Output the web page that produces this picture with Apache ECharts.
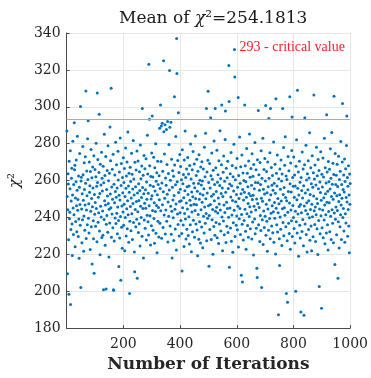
<!DOCTYPE html>
<html>
<head>
<meta charset="utf-8">
<script src="https://cdn.jsdelivr.net/npm/echarts@6/dist/echarts.min.js"></script>
<style>
  html, body { margin: 0; padding: 0; background: #ffffff; }
  #chart { width: 371px; height: 378px; }
</style>
</head>
<body>
<div id="chart"></div>
<script>
// Chi-square statistic recorded at each Monte Carlo iteration (1..1000)
const chiSquare = [
  286.8, 251.4, 209.5, 244.2, 263.7, 258.1, 227.9, 198.3, 270.5, 239.3, 242.8, 255.6, 276.1, 192.8, 233.4, 248.9, 261.2, 266.7, 236.5, 219.4, 252.2, 281.3, 245.1, 230.7, 257.8,
  241.5, 291.3, 265.9, 268.3, 224.1, 250.6, 237.8, 259.4, 271.2, 246.3, 232.2, 254.8, 284.0, 243.9, 249.7, 229.6, 262.5, 239.1, 217.9, 256.3, 274.6, 247.0, 235.7, 300.2, 202.0,
  259.7, 261.8, 244.6, 226.3, 252.9, 238.7, 278.4, 263.1, 249.3, 221.7, 240.8, 269.6, 255.1, 233.0, 246.7, 272.9, 258.5, 308.5, 228.6, 244.0, 265.2, 251.8, 236.1, 282.7, 260.6,
  292.4, 239.6, 247.4, 231.5, 270.1, 253.7, 257.2, 222.6, 264.9, 243.3, 276.8, 234.9, 250.2, 261.5, 214.8, 245.8, 267.4, 255.9, 238.2, 228.4, 273.5, 209.7, 252.5, 241.7, 266.0,
  248.1, 235.2, 262.0, 280.2, 244.9, 256.9, 226.8, 307.5, 259.0, 271.4, 237.4, 250.9, 242.5, 264.4, 296.0, 232.6, 253.0, 219.8, 268.9, 246.0, 257.6, 240.2, 275.3, 229.1, 261.3,
  254.3, 243.5, 230.4, 267.8, 200.8, 258.8, 238.9, 285.1, 249.0, 262.7, 224.9, 246.8, 273.0, 201.2, 236.3, 255.2, 241.0, 265.5, 251.6, 232.0, 278.9, 247.5, 259.9, 218.6, 244.4,
  263.9, 237.0, 289.0, 252.7, 270.7, 245.3, 310.0, 229.3, 256.5, 241.9, 266.1, 249.8, 234.4, 274.2, 200.8, 200.5, 258.0, 227.2, 247.9, 263.0, 239.7, 254.0, 280.8, 236.7, 251.0,
  268.6, 242.3, 256.0, 231.2, 245.6, 275.9, 260.3, 238.4, 213.4, 252.0, 264.6, 228.9, 249.5, 283.1, 240.5, 206.0, 257.3, 269.3, 234.7, 246.2, 223.3, 261.6, 253.4, 243.0, 272.3,
  235.8, 258.9, 247.2, 266.5, 221.9, 251.3, 239.9, 277.6, 255.8, 230.0, 262.4, 244.7, 270.0, 233.9, 249.1, 286.3, 241.4, 257.0, 226.5, 264.0, 253.6, 198.7, 238.0, 267.2, 245.9,
  259.5, 232.8, 250.5, 274.8, 242.0, 263.4, 228.0, 255.4, 247.6, 281.7, 237.2, 260.9, 252.1, 221.2, 210.6, 269.9, 244.3, 256.6, 235.0, 265.7, 248.6, 239.0, 276.0, 207.0, 253.3,
  243.1, 270.6, 231.9, 258.3, 249.2, 236.6, 264.8, 254.6, 224.5, 279.3, 246.1, 261.0, 240.0, 250.8, 267.9, 229.8, 299.0, 256.2, 244.8, 262.9, 218.0, 252.8, 273.6, 238.6, 247.7,
  266.4, 234.1, 255.0, 245.0, 271.8, 227.7, 259.2, 249.9, 241.2, 284.5, 263.5, 237.7, 253.1, 230.5, 323.0, 246.4, 293.2, 268.0, 240.9, 257.4, 225.0, 262.2, 250.0, 235.5, 275.0,
  251.7, 295.0, 243.8, 261.9, 233.1, 256.8, 272.6, 239.4, 248.0, 226.0, 266.9, 254.4, 243.2, 280.0, 231.4, 259.6, 246.5, 264.2, 220.8, 252.3, 270.4, 237.9, 257.9, 245.4, 229.4,
  262.6, 249.6, 288.3, 236.9, 255.7, 301.0, 243.6, 270.3, 289.6, 228.7, 258.7, 291.1, 246.9, 265.0, 234.6, 253.9, 325.0, 286.4, 241.3, 274.4, 250.4, 290.2, 231.0, 261.4, 244.1,
  257.5, 287.7, 238.0, 268.7, 252.6, 292.0, 226.7, 248.4, 263.8, 240.6, 279.5, 254.9, 319.7, 288.9, 235.4, 260.1, 246.0, 291.6, 230.9, 271.6, 243.4, 218.0, 256.4, 265.3, 249.4,
  239.8, 262.3, 227.5, 251.9, 305.5, 268.4, 244.5, 233.7, 257.7, 283.9, 247.3, 222.3, 337.0, 318.0, 259.3, 241.8, 270.9, 236.2, 296.7, 253.5, 264.3, 229.9, 248.7, 274.1, 242.6,
  255.3, 267.6, 238.3, 249.1, 260.5, 231.3, 211.0, 276.7, 245.2, 258.2, 235.9, 263.3, 250.7, 224.2, 271.1, 242.2, 254.5, 286.8, 239.2, 261.7, 228.3, 247.8, 266.2, 233.6, 256.7,
  244.6, 272.5, 252.4, 230.2, 263.6, 240.4, 257.1, 225.6, 268.1, 249.3, 236.0, 279.8, 246.6, 260.8, 221.4, 253.8, 242.9, 265.8, 232.3, 251.2, 275.7, 238.5, 258.6, 247.1, 269.0,
  229.2, 256.1, 243.7, 284.2, 250.3, 236.4, 262.8, 246.9, 271.5, 233.2, 254.2, 219.2, 265.1, 241.6, 258.4, 228.2, 274.0, 249.8, 237.6, 260.2, 252.9, 226.1, 267.3, 244.2, 257.6,
  234.8, 270.2, 248.3, 259.8, 223.6, 252.2, 266.3, 240.7, 255.5, 231.6, 278.1, 245.7, 262.1, 236.8, 285.7, 250.1, 242.1, 299.0, 227.3, 264.7, 253.2, 239.5, 271.0, 308.4, 246.4,
  258.9, 213.6, 241.0, 269.2, 233.5, 255.9, 247.0, 294.0, 262.6, 228.1, 251.5, 274.9, 238.8, 260.7, 244.3, 220.0, 265.6, 252.6, 235.1, 281.4, 249.0, 257.8, 230.4, 299.0, 243.4,
  267.0, 237.3, 254.1, 245.5, 276.4, 229.0, 259.1, 242.4, 263.2, 250.6, 225.9, 270.8, 247.3, 236.5, 257.3, 287.0, 244.0, 261.1, 232.7, 253.0, 268.5, 301.0, 240.3, 256.0, 222.0,
  251.4, 264.5, 238.1, 273.3, 246.7, 230.6, 259.6, 242.7, 282.3, 297.7, 253.7, 226.4, 266.7, 248.2, 235.2, 261.5, 244.8, 270.5, 231.8, 255.7, 240.1, 322.4, 302.8, 213.0, 258.1,
  245.1, 263.7, 234.3, 251.1, 275.2, 227.1, 257.2, 241.3, 268.2, 249.2, 221.1, 262.0, 237.1, 254.3, 279.7, 243.9, 331.0, 316.2, 229.6, 260.4, 248.5, 266.8, 235.7, 252.5, 240.8,
  271.9, 233.3, 256.3, 246.0, 305.0, 224.0, 262.7, 250.2, 239.3, 283.6, 244.9, 258.5, 230.8, 267.5, 252.8, 208.6, 241.6, 273.8, 236.3, 205.0, 255.1, 264.1, 227.8, 249.4, 260.0,
  238.4, 253.6, 301.0, 244.5, 268.0, 232.5, 259.3, 222.8, 250.9, 277.4, 242.0, 263.9, 235.6, 256.6, 247.5, 229.3, 270.6, 253.0, 240.5, 285.3, 245.8, 261.8, 233.8, 251.8, 266.6,
  243.0, 257.4, 228.3, 274.5, 249.7, 237.5, 262.3, 252.0, 219.6, 268.7, 246.1, 255.6, 239.1, 280.6, 231.1, 259.0, 244.0, 265.9, 234.2, 250.0, 212.4, 207.4, 271.3, 247.6, 258.8,
  298.0, 236.0, 263.1, 245.4, 254.7, 227.0, 269.8, 241.1, 257.9, 232.9, 276.2, 250.4, 202.0, 261.3, 238.7, 248.8, 283.0, 225.3, 255.3, 243.5, 266.0, 234.5, 252.7, 272.0, 240.6,
  259.8, 300.7, 230.3, 247.2, 264.9, 237.9, 253.4, 221.6, 270.0, 244.6, 256.7, 233.0, 293.6, 261.2, 249.5, 239.4, 275.1, 228.5, 299.0, 252.3, 242.3, 267.1, 235.3, 257.5, 246.3,
  262.8, 231.7, 254.8, 243.1, 280.9, 226.6, 258.6, 248.1, 239.6, 268.9, 253.1, 220.2, 304.3, 245.0, 264.0, 236.1, 257.1, 273.9, 232.1, 250.3, 242.6, 187.3, 261.0, 247.4, 228.4,
  214.0, 266.3, 240.2, 255.3, 233.6, 271.2, 248.9, 259.7, 224.8, 263.5, 244.7, 299.0, 237.2, 252.5, 277.9, 230.1, 256.2, 245.3, 268.3, 241.2, 283.8, 250.8, 235.0, 262.5, 198.7,
  249.1, 260.6, 227.4, 194.0, 242.8, 273.1, 254.0, 236.8, 265.3, 231.3, 247.8, 305.5, 258.3, 222.7, 269.5, 244.1, 253.8, 238.2, 276.3, 294.5, 229.7, 261.7, 246.5, 256.9, 240.0,
  272.8, 234.0, 251.0, 263.0, 226.2, 257.0, 243.3, 200.0, 267.8, 237.7, 282.1, 249.6, 231.6, 309.0, 255.8, 241.8, 264.6, 219.0, 252.1, 245.9, 270.4, 235.8, 259.1, 228.9, 247.0,
  188.7, 261.6, 242.5, 254.6, 232.4, 275.5, 250.5, 238.9, 266.2, 224.6, 257.2, 187.0, 246.2, 268.6, 294.0, 236.4, 253.2, 243.8, 279.1, 230.7, 260.3, 248.0, 221.3, 263.7, 241.9,
  255.0, 270.7, 233.5, 249.0, 261.4, 239.8, 285.9, 227.6, 252.4, 244.3, 266.9, 235.3, 258.2, 222.0, 247.1, 273.4, 240.4, 256.3, 229.5, 264.2, 251.6, 306.4, 243.6, 260.8, 236.2,
  268.4, 245.7, 226.9, 257.6, 241.5, 278.0, 250.1, 233.9, 262.6, 247.6, 219.9, 271.4, 255.5, 238.3, 265.4, 202.6, 244.6, 259.2, 231.2, 253.5, 275.6, 240.9, 249.3, 190.8, 263.4,
  234.4, 256.5, 244.0, 272.2, 229.0, 261.9, 250.7, 238.6, 282.9, 246.8, 225.7, 267.0, 252.9, 241.5, 258.7, 231.5, 295.7, 248.3, 264.7, 236.0, 254.2, 222.4, 270.3, 243.2, 259.4,
  247.9, 266.1, 232.2, 255.4, 277.3, 240.7, 261.2, 228.0, 251.3, 286.1, 244.2, 258.0, 236.9, 269.4, 249.9, 226.3, 263.3, 305.7, 242.4, 253.3, 214.5, 274.7, 239.0, 257.8, 245.6,
  262.9, 230.6, 251.7, 268.8, 243.7, 256.8, 207.0, 237.6, 273.2, 248.6, 223.4, 260.6, 252.3, 234.9, 265.0, 241.4, 281.2, 246.7, 228.1, 257.9, 250.4, 270.1, 301.8, 239.9, 255.2,
  244.8, 263.0, 232.6, 253.8, 271.7, 226.5, 259.5, 242.0, 266.4, 237.0, 250.8, 279.0, 295.0, 248.4, 261.6, 229.8, 256.9, 244.3, 268.0, 235.4, 252.1, 220.9, 263.6, 247.2, 258.4
];

// Critical value of the test and the reported mean
const criticalValue = 293;
const meanValue = '254.1813';
const criticalLabel = '293 - critical value';
const criticalLabelAt = [610, 332.5];

// Axis ticks
const xTicks = [0, 200, 400, 600, 800, 1000];
const yTicks = [180, 200, 220, 240, 260, 280, 300, 320, 340];

const points = chiSquare.map((v, i) => [i + 1, v]);

const serif = 'DejaVu Serif';
const axisColor = '#4a4a4a';
const gridColor = '#e6e6e6';

const chart = echarts.init(document.getElementById('chart'), null, { renderer: 'canvas' });

chart.setOption({
  animation: false,
  backgroundColor: '#ffffff',
  title: {
    text: 'Mean of {x|χ}²=' + meanValue,
    left: 114,
    top: 5,
    textStyle: {
      fontFamily: serif,
      fontSize: 17,
      fontWeight: 'normal',
      color: '#1a1a1a',
      rich: {
        x: { fontFamily: serif, fontSize: 17, fontStyle: 'italic', color: '#1a1a1a' }
      }
    }
  },
  grid: { left: 66, right: 20, top: 33, bottom: 44, containLabel: false },
  xAxis: {
    type: 'value',
    min: xTicks[0],
    max: xTicks[xTicks.length - 1],
    interval: xTicks[1] - xTicks[0],
    name: 'Number of Iterations',
    nameLocation: 'middle',
    nameGap: 27,
    nameTextStyle: { fontFamily: serif, fontSize: 17, fontWeight: 'bold', color: '#262626' },
    axisLine: { show: true, onZero: false, lineStyle: { color: axisColor, width: 1 } },
    axisTick: { show: true, inside: true, length: 3, lineStyle: { color: axisColor } },
    axisLabel: {
      fontFamily: serif, fontSize: 14, color: '#262626', margin: 9,
      formatter: v => (v === xTicks[0] ? '' : String(v))
    },
    splitLine: { show: true, lineStyle: { color: gridColor, width: 1 } }
  },
  yAxis: {
    type: 'value',
    min: yTicks[0],
    max: yTicks[yTicks.length - 1],
    interval: yTicks[1] - yTicks[0],
    name: '{x|χ}²',
    nameLocation: 'middle',
    nameGap: 40,
    nameRotate: 90,
    nameTextStyle: {
      fontFamily: serif, fontSize: 15, color: '#262626',
      rich: { x: { fontFamily: serif, fontSize: 15, fontStyle: 'italic', color: '#262626' } }
    },
    axisLine: { show: true, onZero: false, lineStyle: { color: axisColor, width: 1 } },
    axisTick: { show: true, inside: true, length: 3, lineStyle: { color: axisColor } },
    axisLabel: { fontFamily: serif, fontSize: 14, color: '#262626', margin: 6 },
    splitLine: { show: true, lineStyle: { color: gridColor, width: 1 } }
  },
  series: [
    {
      type: 'scatter',
      data: points,
      symbol: 'circle',
      symbolSize: 3,
      itemStyle: { color: '#0072BD', opacity: 1 },
      markLine: {
        silent: true,
        symbol: 'none',
        label: { show: false },
        lineStyle: { color: '#de9a7c', width: 1, type: 'solid' },
        data: [{ yAxis: criticalValue }]
      },
      markPoint: {
        silent: true,
        symbol: 'circle',
        symbolSize: 0,
        data: [{ coord: criticalLabelAt, value: criticalLabel }],
        label: {
          show: true,
          position: 'right',
          distance: 0,
          formatter: criticalLabel,
          fontFamily: 'Liberation Serif',
          fontSize: 14,
          color: '#f2202a'
        }
      }
    }
  ]
});
</script>
</body>
</html>
